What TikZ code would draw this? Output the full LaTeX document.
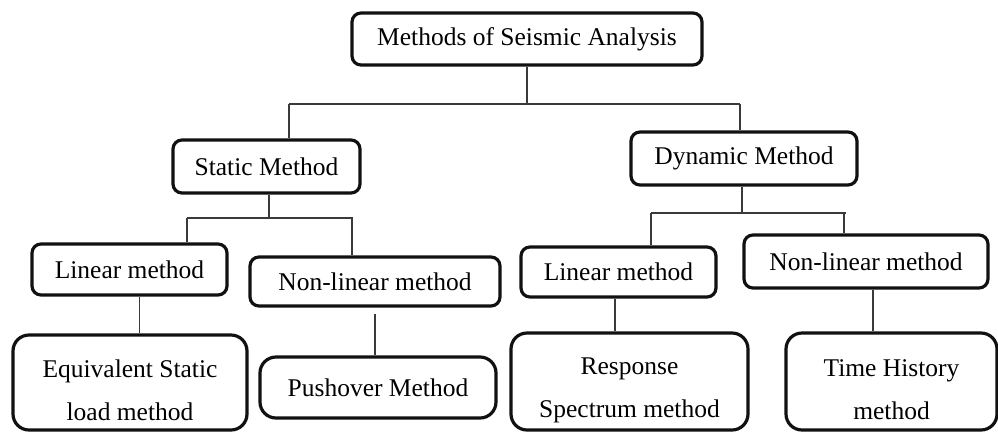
\documentclass[tikz,border=0pt]{standalone}
\usepackage{fontspec}
\setmainfont{Liberation Serif}
\definecolor{boxline}{HTML}{111111}
\definecolor{linkline}{HTML}{3A3A3A}
\newcommand{\lowstrut}{\rule{0pt}{34pt}}

\begin{document}
\begin{tikzpicture}[
    x=1pt, y=-1pt,
    box/.style={draw=boxline, line width=3.2pt, rounded corners=9pt, inner sep=0pt,
        align=center, font=\fontsize{25.5}{43}\selectfont},
    bigbox/.style={box, rounded corners=16pt},
    link/.style={draw=linkline, line width=1.4pt}
]
    \useasboundingbox (0,0) rectangle (998,432);

    % Top level
    \node[box, minimum width=350pt, minimum height=52pt] (root) at (527,39) {Methods of Seismic Analysis};

    % Static / Dynamic
    \node[box, minimum width=187pt, minimum height=53pt] (static) at (266.5,166.5) {Static Method};
    \node[box, minimum width=226pt, minimum height=53pt] (dynamic) at (744,158.5) {Dynamic Method};

    % Linear / Non-linear
    \node[box, minimum width=195pt, minimum height=51pt] (slin) at (129.5,269.5) {Linear method};
    \node[box, minimum width=250pt, minimum height=49pt] (snl) at (375,281.5) {Non-linear method};
    \node[box, minimum width=195pt, minimum height=50pt] (dlin) at (618.5,272) {Linear method};
    \node[box, minimum width=244pt, minimum height=53pt] (dnl) at (866,261.5) {Non-linear method};

    % Bottom row
    \node[bigbox, minimum width=234pt, minimum height=95pt] (equiv) at (130,382.5) {\lowstrut Equivalent Static\\load method};
    \node[bigbox, minimum width=236pt, minimum height=61pt] (push) at (378,387.5) {Pushover Method};
    \node[bigbox, minimum width=237pt, minimum height=97pt] (resp) at (629.5,381.5) {\lowstrut Response\\Spectrum method};
    \node[bigbox, minimum width=211pt, minimum height=97pt] (time) at (891.5,381.5) {\lowstrut Time History\\method};

    % Connectors from the top
    \coordinate (barL) at (289,104);
    \coordinate (barR) at (740,104);
    \draw[link] (root.south) -- (root.south |- barL);
    \draw[link] (barL) -- (barR);
    \draw[link] (barL) -- (barL |- static.north);
    \draw[link] (barR) -- (barR |- dynamic.north);

    % Static branch
    \coordinate (sbarL) at (187,218);
    \coordinate (sbarR) at (353,218);
    \draw[link] ([xshift=2.5pt]static.south) -- ([xshift=2.5pt]static.south |- sbarL);
    \draw[link] (sbarL) -- (sbarR);
    \draw[link] (sbarL) -- (sbarL |- slin.north);
    \draw[link] ([xshift=-1pt]sbarR) -- ([xshift=-1pt]sbarR |- snl.north);
    \draw[link] ([xshift=10pt]slin.south) -- ([xshift=10pt]slin.south |- equiv.north);
    \draw[link] ([yshift=-6pt]snl.south) -- (snl.south |- push.north);

    % Dynamic branch
    \coordinate (dbarL) at (651,213);
    \coordinate (dbarR) at (846,213);
    \draw[link] ([xshift=-2pt]dynamic.south) -- ([xshift=-2pt]dynamic.south |- dbarL);
    \draw[link] (dbarL) -- (dbarL |- dlin.north);
    \draw[link] (dbarL) -- (dbarR);
    \draw[link] ([xshift=-2pt]dbarR) -- ([xshift=-2pt]dbarR |- dnl.north);
    \draw[link] ([xshift=-3.5pt]dlin.south) -- ([xshift=-3.5pt]dlin.south |- resp.north);
    \draw[link] ([xshift=7pt]dnl.south) -- ([xshift=7pt]dnl.south |- time.north);

\end{tikzpicture}
\end{document}
